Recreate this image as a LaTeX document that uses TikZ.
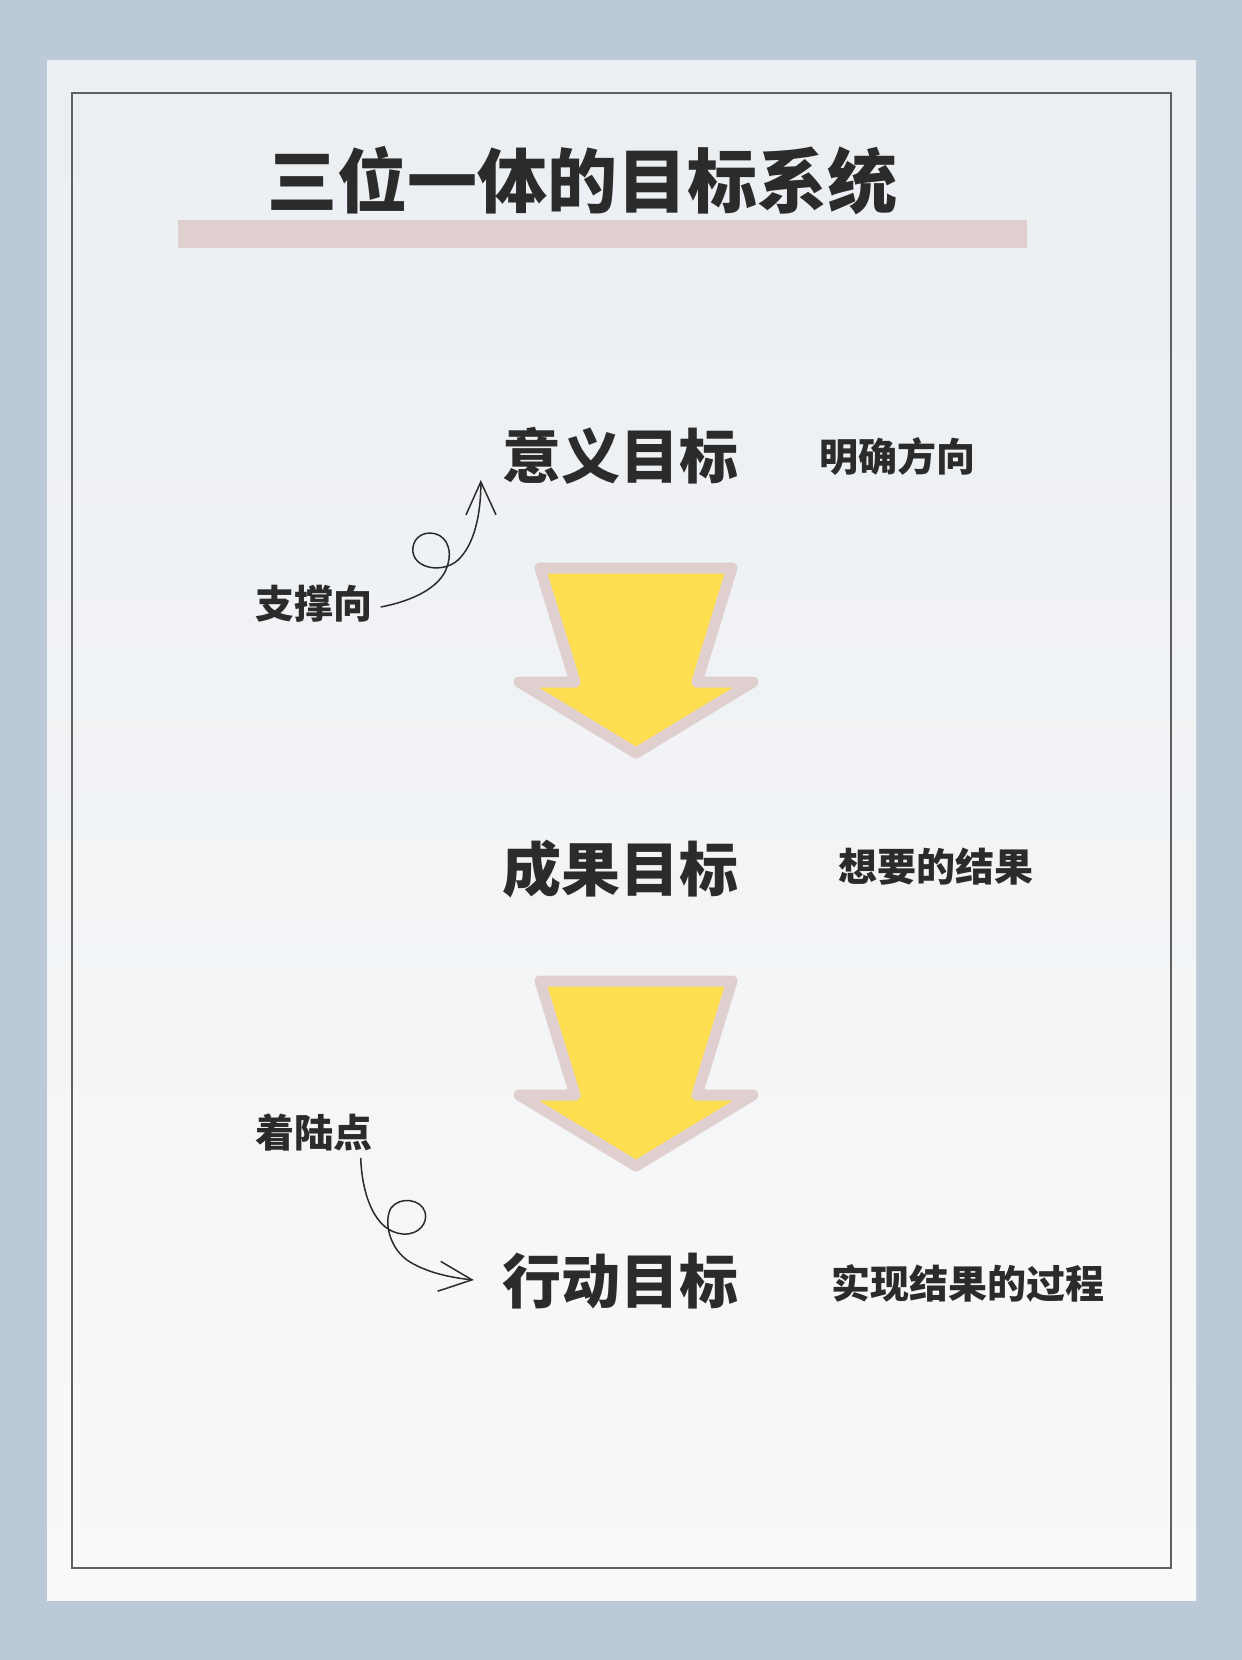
\documentclass[tikz,border=0pt]{standalone}
\usepackage{fontspec}
\newfontfamily\cjk{Noto Sans CJK SC}
\usetikzlibrary{calc,arrows.meta}
\definecolor{wallblue}{HTML}{BCC9D6}
\definecolor{paper}{HTML}{EDF0F3}
\definecolor{rosegrey}{HTML}{E0CFCF}
\definecolor{sunyellow}{HTML}{FFDF52}
\definecolor{ink}{HTML}{2B2B2B}

\begin{document}
\begin{tikzpicture}[x=1pt,y=-1pt,
  heading/.style={font={\cjk\bfseries\fontsize{59}{59}\selectfont},text=ink,inner sep=0pt},
  note/.style={font={\cjk\bfseries\fontsize{39}{39}\selectfont},text=ink,inner sep=0pt},
  squiggle/.style={ink,line width=1.5pt,-{Straight Barb[length=33pt,width=30pt,line width=1.5pt]}},
  blockarrow/.style={draw=rosegrey,fill=sunyellow,line width=11pt,line join=round}]
  % Configurable parameters
  \def\shaft{96}
  \def\notch{61}
  \def\wing{117}
  \def\neck{114}
  \def\tip{185}
  %
  % Background and frame
  \fill[wallblue] (0,0) rectangle (1242,1660);
  \shade[top color=paper!96!wallblue,bottom color=paper!40!white] (47,60) rectangle (1196,1600);
  \draw[ink!75,line width=1.3pt] (72,93) rectangle (1171,1568);
  \useasboundingbox (0,0) rectangle (1242,1660);
  %
  % Title
  \fill[rosegrey] (178,220) rectangle (1027,248);
  \node[font={\cjk\bfseries\fontsize{70}{70}\selectfont},text=ink,inner sep=0pt] (title)
    at (582,181) {三位一体的目标系统};
  %
  % Goals and notes
  \node[heading] (meaning) at (620,456) {意义目标};
  \node[heading] (result) at (620,869) {成果目标};
  \node[heading] (action) at (620,1281) {行动目标};
  \node[note] (direction) at (897,456) {明确方向};
  \node[note] (wanted) at (936,867) {想要的结果};
  \node[note] (process) at (968,1283) {实现结果的过程};
  \node[note] (support) at (314,604) {支撑向};
  \node[note] (landing) at (314,1132) {着陆点};
  %
  % Block arrows between the goals
  \foreach \goal in {meaning,result}
    \draw[blockarrow,shift={($(\goal.center)+(16,112)$)}]
      (-\shaft,0) -- (\shaft,0) -- (\notch,\neck) -- (\wing,\neck)
      -- (0,\tip) -- (-\wing,\neck) -- (-\notch,\neck) -- cycle;
  %
  % Curly arrows
  \coordinate (upStart) at ($(support.east)+(8,3)$);
  \coordinate (upEnd) at ($(meaning.west)+(-21,24)$);
  \draw[squiggle] (upStart) .. controls (412,601) and (440,588) .. (447,567)
    .. controls (454,547) and (444,533) .. (430,533)
    .. controls (416,533) and (410,546) .. (414,556)
    .. controls (420,570) and (445,572) .. (458,560)
    .. controls (474,545) and (481,515) .. (upEnd);
  \coordinate (downStart) at ($(landing.south east)+(-12,7)$);
  \coordinate (downEnd) at ($(action.west)+(-28,-1)$);
  \draw[squiggle] (downStart) .. controls (362,1195) and (375,1232) .. (403,1234)
    .. controls (420,1235) and (428,1222) .. (425,1212)
    .. controls (421,1199) and (400,1196) .. (391,1208)
    .. controls (383,1222) and (390,1250) .. (410,1262)
    .. controls (430,1274) and (455,1278) .. (downEnd);
  %
\end{tikzpicture}
\end{document}
